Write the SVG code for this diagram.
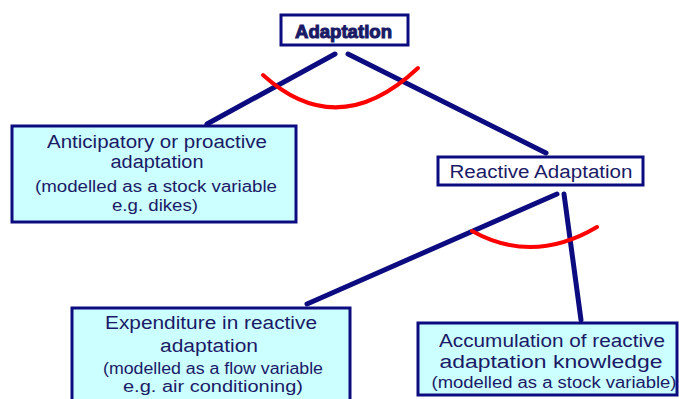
<svg xmlns="http://www.w3.org/2000/svg" width="679" height="399" viewBox="0 0 679 399">
<style>
.box{stroke:#0c0c80;stroke-width:3}
.cyan{fill:#ccffff}
.white{fill:#ffffff}
.ln{stroke:#0c0c80;stroke-width:5;stroke-linecap:round;fill:none}
.arc{stroke:#ff0000;stroke-width:4;stroke-linecap:round;fill:none}
text{font-family:"Liberation Sans",Arial,sans-serif;fill:#1a1a66;text-anchor:middle}
.big{font-size:18px}
.sm{font-size:16px}
</style>
<rect width="679" height="399" fill="#ffffff"/>
<g id="connectors">
<path class="ln" d="M335,54 L207,124"/>
<path class="ln" d="M348,54 L546,153"/>
<path class="arc" d="M263,75 Q338,143 418,68"/>
<path class="ln" d="M557,194 L307,304"/>
<path class="ln" d="M564,194 L581,320"/>
<path class="arc" d="M472,231 Q533,265 597,227"/>
</g>
<g id="adaptation">
<rect class="box white" x="281" y="15" width="127" height="30"/>
<text x="343.5" y="38" font-size="18" font-weight="bold" stroke="#1a1a66" stroke-width="1" textLength="97" lengthAdjust="spacingAndGlyphs">Adaptation</text>
</g>
<g id="anticipatory">
<rect class="box cyan" x="12" y="126" width="284" height="96"/>
<text class="big" x="157" y="148" textLength="220" lengthAdjust="spacingAndGlyphs">Anticipatory or proactive</text>
<text class="big" x="157" y="168" textLength="93" lengthAdjust="spacingAndGlyphs">adaptation</text>
<text class="sm" x="156" y="192" textLength="242" lengthAdjust="spacingAndGlyphs">(modelled as a stock variable</text>
<text class="sm" x="155" y="211" textLength="86" lengthAdjust="spacingAndGlyphs">e.g. dikes)</text>
</g>
<g id="reactive">
<rect class="box white" x="438" y="157" width="205" height="28"/>
<text class="big" x="541" y="178" textLength="183" lengthAdjust="spacingAndGlyphs">Reactive Adaptation</text>
</g>
<g id="expenditure">
<rect class="box cyan" x="72" y="308" width="278" height="100"/>
<text class="big" x="211" y="329" textLength="212" lengthAdjust="spacingAndGlyphs">Expenditure in reactive</text>
<text class="big" x="209" y="352" textLength="98" lengthAdjust="spacingAndGlyphs">adaptation</text>
<text class="sm" x="213" y="374" textLength="220" lengthAdjust="spacingAndGlyphs">(modelled as a flow variable</text>
<text class="sm" x="213" y="392" textLength="180" lengthAdjust="spacingAndGlyphs">e.g. air conditioning)</text>
</g>
<g id="accumulation">
<rect class="box cyan" x="418" y="323" width="259" height="72"/>
<text class="big" x="552" y="347" textLength="226" lengthAdjust="spacingAndGlyphs">Accumulation of reactive</text>
<text class="big" x="551" y="368" textLength="223" lengthAdjust="spacingAndGlyphs">adaptation knowledge</text>
<text class="sm" x="554" y="388" textLength="245" lengthAdjust="spacingAndGlyphs">(modelled as a stock variable)</text>
</g>
</svg>
